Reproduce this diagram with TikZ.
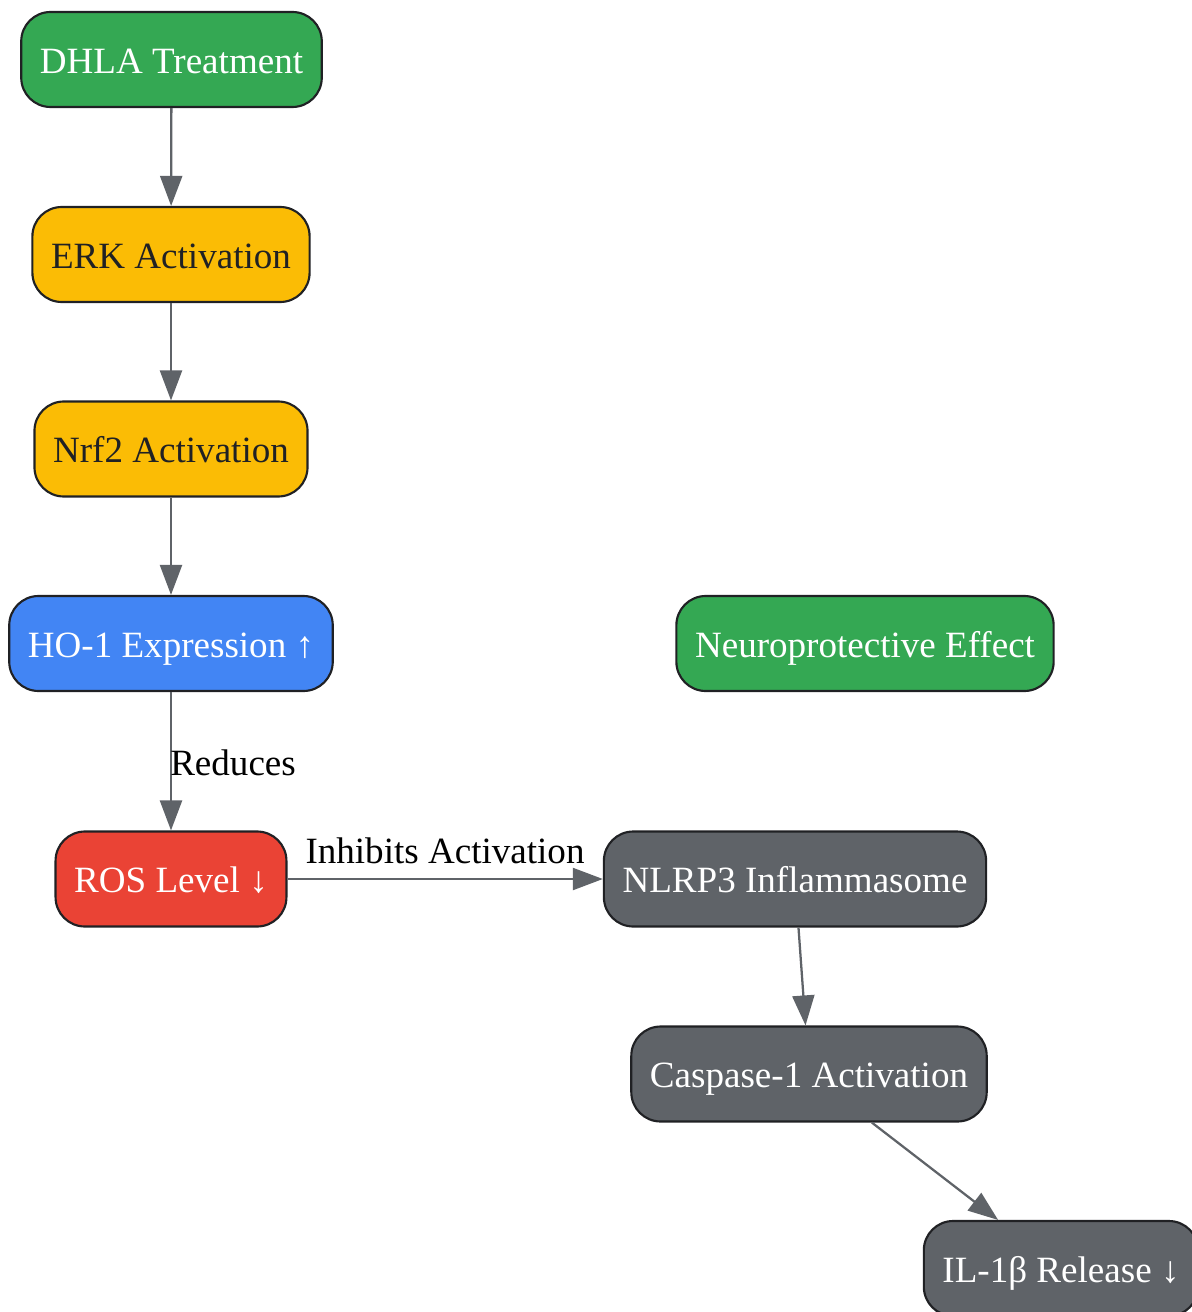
\documentclass[tikz,border=0pt]{standalone}
\usepackage{fontspec}
\setmainfont{Liberation Serif}
\usetikzlibrary{arrows.meta}
\definecolor{gGreen}{HTML}{34A853}
\definecolor{gYellow}{HTML}{FBBC05}
\definecolor{gBlue}{HTML}{4285F4}
\definecolor{gRed}{HTML}{EA4335}
\definecolor{gGray}{HTML}{5F6368}
\definecolor{gDark}{HTML}{202124}
\begin{document}
\begin{tikzpicture}[x=0.75pt,y=-0.75pt,
		box/.style={draw=gDark,line width=1.6pt,rounded corners=22pt,minimum height=71.25pt,inner xsep=14pt,text height=24pt,text depth=3.4pt,text=white,font=\fontsize{27.8}{32}\selectfont},
		link/.style={draw=gGray,line width=1.7pt,-{Triangle[length=22.5pt,width=16.5pt]}},
		lbl/.style={inner sep=0pt,font=\fontsize{27.8}{32}\selectfont}]
		\useasboundingbox (0,0) rectangle (1191,1312);
		\node [box,fill=gGreen] (dhla) at (171.5,59.5) {DHLA Treatment};
		\node [box,fill=gYellow,text=gDark] (erk) at (171,254.5) {ERK Activation};
		\node [box,fill=gYellow,text=gDark] (nrf) at (171,449) {Nrf2 Activation};
		\node [box,fill=gBlue] (ho) at (171,643.5) {HO-1 Expression ↑};
		\node [box,fill=gGreen] (neuro) at (865,643.5) {Neuroprotective Effect};
		\node [box,fill=gRed] (ros) at (171,879) {ROS Level ↓};
		\node [box,fill=gGray] (nlrp) at (795,879) {NLRP3 Inflammasome};
		\node [box,fill=gGray] (casp) at (809,1074) {Caspase-1 Activation};
		\node [box,fill=gGray] (il) at (1061,1268.5) {IL-1β Release ↓};
		\draw [link] (dhla) to (erk);
		\draw [link] (erk) to (nrf);
		\draw [link] (nrf) to (ho);
		\draw [link] (ho) to (ros);
		\draw [link] (ros) to (nlrp);
		\draw [link] (nlrp) to (casp);
		\draw [link] (casp) to (il);
		\node [lbl,anchor=west] (reduces) at (170,763) {Reduces};
		\node [lbl] (inhibits) at (445,851) {Inhibits Activation};
	\end{tikzpicture}
\end{document}
